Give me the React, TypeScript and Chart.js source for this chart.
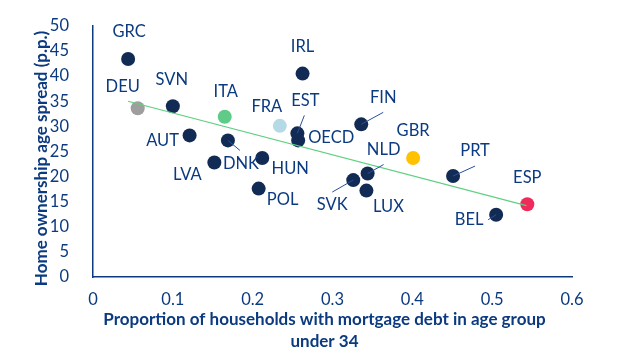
import React, { useEffect, useRef } from "react";
import { Chart, registerables } from "chart.js";

Chart.register(...registerables);

const countries = ["GRC", "DEU", "SVN", "AUT", "ITA", "DNK", "LVA", "HUN", "POL", "FRA", "IRL", "EST", "OECD", "FIN", "GBR", "NLD", "SVK", "LUX", "PRT", "BEL", "ESP"];
const mortgageShare = [0.044, 0.056, 0.1, 0.121, 0.165, 0.169, 0.152, 0.212, 0.2075, 0.234, 0.2625, 0.256, 0.257, 0.336, 0.401, 0.344, 0.326, 0.3425, 0.451, 0.505, 0.544];
const ownershipSpread = [43.4, 33.6, 34.0, 28.2, 31.9, 27.2, 22.8, 23.7, 17.6, 30.1, 40.5, 28.6, 27.2, 30.4, 23.7, 20.6, 19.3, 17.2, 20.1, 12.4, 14.5];
const trendX = [0.044, 0.543];
const trendY = [35.0, 14.2];
const xTickLabels = ["0", "0.1", "0.2", "0.3", "0.4", "0.5", "0.6"];
const yTickLabels = ["0", "5", "10", "15", "20", "25", "30", "35", "40", "45", "50"];

const NAVY = "#122B54";
const TEXT = "#0B3A80";
const highlight: Record<string, string> = {
  DEU: "#9E9E9E",
  ITA: "#5FCB88",
  FRA: "#B5DAE6",
  GBR: "#FFC100",
  ESP: "#EE2B5B",
};

// label offsets (pixels, relative to point) and optional leader line endpoints
const labelLayout: Record<string, { dx: number; dy: number; lx?: number; ly?: number }> = {
  GRC: { dx: 1, dy: -27 },
  DEU: { dx: -15, dy: -22 },
  SVN: { dx: -1, dy: -27 },
  AUT: { dx: -27, dy: 5 },
  ITA: { dx: 1, dy: -25 },
  DNK: { dx: 13, dy: 23, lx: 12, ly: 10 },
  LVA: { dx: -27, dy: 12 },
  HUN: { dx: 28, dy: 11 },
  POL: { dx: 24, dy: 11 },
  FRA: { dx: -13, dy: -19 },
  IRL: { dx: 0, dy: -27 },
  EST: { dx: 8, dy: -33, lx: 7, ly: -18 },
  OECD: { dx: 33, dy: -3 },
  FIN: { dx: 22, dy: -27, lx: 22, ly: -12 },
  GBR: { dx: 0, dy: -27 },
  NLD: { dx: 16, dy: -24, lx: 16, ly: -9 },
  SVK: { dx: -21, dy: 25, lx: -21, ly: 12 },
  LUX: { dx: 22, dy: 16 },
  PRT: { dx: 22, dy: -25, lx: 22, ly: -10 },
  BEL: { dx: -27, dy: 5, lx: -8, ly: 5 },
  ESP: { dx: 0, dy: -27 },
};

const FONT = "Lato";

const labelPlugin = {
  id: "countryLabels",
  afterDatasetsDraw(chart: any) {
    const { ctx } = chart;
    const meta = chart.getDatasetMeta(1);
    ctx.save();
    meta.data.forEach((el: any, i: number) => {
      const name = countries[i];
      const L = labelLayout[name];
      if (!L) return;
      const x = el.x;
      const y = el.y;
      if (L.lx !== undefined && L.ly !== undefined) {
        ctx.strokeStyle = "#2A4F9A";
        ctx.lineWidth = 1;
        ctx.beginPath();
        ctx.moveTo(x, y);
        ctx.lineTo(x + L.lx, y + L.ly);
        ctx.stroke();
      }
      ctx.fillStyle = TEXT;
      ctx.font = `16.5px ${FONT}`;
      ctx.textAlign = "center";
      ctx.textBaseline = "middle";
      ctx.fillText(name, x + L.dx, y + L.dy);
    });
    ctx.restore();
  },
  afterDraw(chart: any) {
    const { ctx, chartArea } = chart;
    ctx.save();
    ctx.fillStyle = TEXT;
    ctx.font = `bold 17px ${FONT}`;
    ctx.textAlign = "center";
    ctx.textBaseline = "middle";
    const cx = chartArea.left - 8 + (chartArea.right - chartArea.left) / 2;
    ctx.fillText("Proportion of households with mortgage debt in age group", cx, chartArea.bottom + 43);
    ctx.fillText("under 34", cx, chartArea.bottom + 65);
    ctx.translate(chartArea.left - 51, (chartArea.top + chartArea.bottom) / 2 + 7);
    ctx.rotate(-Math.PI / 2);
    ctx.fillText("Home ownership age spread (p.p.)", 0, 0);
    ctx.restore();
  },
};

export default function App() {
  const ref = useRef<HTMLCanvasElement | null>(null);
  useEffect(() => {
    document.body.style.margin = "0";
    if (!ref.current) return;
    const chart = new Chart(ref.current, {
      type: "scatter",
      data: {
        datasets: [
          {
            type: "line",
            data: trendX.map((x, i) => ({ x, y: trendY[i] })),
            borderColor: "#5FD081",
            borderWidth: 1.2,
            pointRadius: 0,
            fill: false,
            order: 0,
          } as any,
          {
            data: mortgageShare.map((x, i) => ({ x, y: ownershipSpread[i] })),
            backgroundColor: countries.map((c) => highlight[c] || NAVY),
            borderWidth: 0,
            pointRadius: 7,
            pointHoverRadius: 7,
            order: 1,
          },
        ],
      },
      options: {
        animation: false,
        responsive: false,
        maintainAspectRatio: false,
        layout: { padding: { left: 0, right: 50, top: 18, bottom: 0 } },
        plugins: { legend: { display: false }, tooltip: { enabled: false } },
        scales: {
          x: {
            type: "linear",
            min: 0,
            max: 0.6,
            grid: { display: false },
            border: { display: true, color: "#0B3A80", width: 1.5 },
            ticks: {
              stepSize: 0.1,
              color: TEXT,
              font: { family: FONT, size: 16.5 },
              padding: 5,
              callback: (_v: any, i: number) => xTickLabels[i],
            },
            afterFit: (s: any) => {
              s.height = 84;
            },
          },
          y: {
            type: "linear",
            min: 0,
            max: 50,
            grid: { display: false },
            border: { display: true, color: "#0B3A80", width: 1.5 },
            ticks: {
              stepSize: 5,
              color: TEXT,
              font: { family: FONT, size: 16.5 },
              padding: 16,
              callback: (_v: any, i: number) => yTickLabels[i],
            },
            afterFit: (s: any) => {
              s.width = 93;
            },
          },
        },
      },
      plugins: [labelPlugin],
    });
    return () => chart.destroy();
  }, []);
  return (
    <div style={{ width: 622, height: 361 }}>
      <canvas ref={ref} width={622} height={361} style={{ display: "block" }} />
    </div>
  );
}
